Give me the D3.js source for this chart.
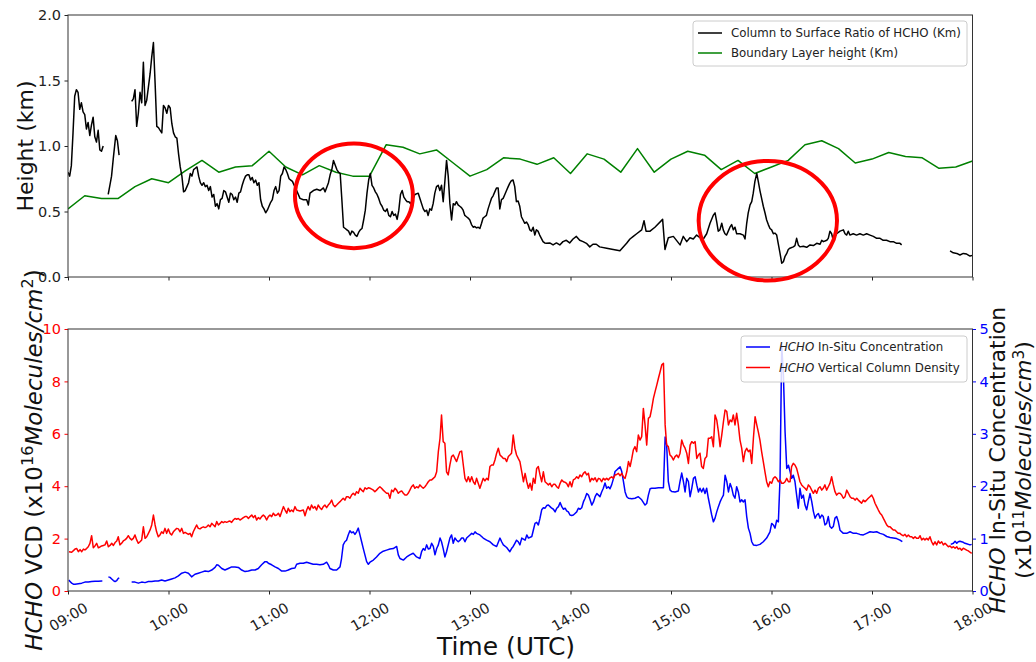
<!DOCTYPE html>
<html>
<head>
<meta charset="utf-8">
<style>
  body { margin: 0; background: #fff; }
  svg { font-family: 'DejaVu Sans', sans-serif; }
</style>
</head>
<body>
<script src="https://cdn.jsdelivr.net/npm/d3@7"></script>
<script>
// all times are minutes after 09:00 UTC, null = no data

// column to surface ratio of HCHO (km)
const ratioMin = [
  0,1,2,3,4,5,6,7,8,9,
  10,11,12,13,14,15,16,17,18,19,
  20,21,22.5,24,25,26,27,28,28.5,29.5,
  30.5,34,38,39,40,41,42,43,44,45,
  46,47,48,49,50,51,52,53,54,55,
  56,57,58,59,60,61,62,63,64,65,
  66,67,68,69,70,71,72,73,74,75,
  76,77,78,79,80,81,82,83,84,85,
  86,87,88,89,90,91,92,93,94,95,
  96,97,98,99,100,101,102,103,104,105,
  106,107,108,109,110,111,112,113,114,115,
  116,117,118,119,120,121,122,123,124,125,
  126,127,128,129,130,131,132,133,134,135,
  136.5,138.5,140.5,142.5,143.5,144.5,146.5,148.5,150.5,152.5,
  153.5,155.5,156.5,157.5,158.5,159.5,160.5,161.5,162.5,163.5,
  164.5,165.5,166.5,167.5,168.5,169.5,170.5,171.5,172.5,173.5,
  174.5,175.5,176.5,177.5,178.5,179.5,180.5,181.5,182.5,183.5,
  184.5,185.5,186.5,187.5,188.5,189.5,190.5,191.5,192.5,193.5,
  194.5,195.5,196.5,197.5,198.5,199.5,200.5,201.5,202.5,203.5,
  204.5,206.1,207.1,209.1,210.1,212.1,213.1,214.1,215,216,
  217,218,219,220,221,222,223,224,225,226,
  227,228,229,230,231,231.9,232.9,233.9,234.9,235.9,
  236.9,237.9,238.9,239.9,240.9,241.9,242.9,243.9,244.9,245.9,
  246.9,247.8,248.8,249.8,250.8,251.8,252.8,253.8,254.8,255.8,
  256.8,257.8,258.8,259.8,260.8,261.8,262.8,263.7,264.7,265.7,
  266.7,267.7,268.7,269.7,270.7,271.7,272.7,273.7,274.7,275.7,
  276.7,277.7,278.7,279.6,280.6,281.6,282.6,283.6,284.6,285.6,
  287.6,289.6,291.6,293.6,295.5,297.5,299.5,301.5,303.5,305.5,
  307.5,309.5,311.5,313.4,315.4,317.4,321.6,325.5,329.5,333.5,
  335.5,337.5,339.5,342.5,343.9,345.1,347.5,350.4,355,356.4,
  358.4,361.4,365.4,367.3,369.4,371.3,373.3,375.3,377.3,379.3,
  381.3,383.3,385.2,386.3,387.3,388.2,389.2,390.3,391.2,392.2,
  393.2,394.2,395.2,396.2,397.2,398.2,399.2,401.2,403.2,404.2,
  405.2,406.1,407.2,408.2,409.1,410.1,411.2,412.1,413.1,414.1,
  415.1,416.1,417.1,418.1,419.1,420.1,421.1,422.1,423.1,424,
  425.1,426.1,427.1,428,429.1,430,431,433,434,435,
  436,437,439,441,443,445,447,449,450,451,
  453,453.9,454.9,455.9,456.9,457.9,458.9,460.9,462.9,463.9,
  464.9,465.8,466.8,468.8,470.8,472.8,474.8,476.8,478.8,480.8,
  482.8,484.8,486.7,488.7,490.7,492.7,494.7,496.7,497.7,512,
  526.6,528.5,530.6,532.5,534.5,536.5,538.5,540
];
const ratioKm = [
  0.80,0.77,0.85,1.10,1.38,1.43,1.41,1.28,1.33,1.26,
  1.24,1.13,1.18,1.08,1.16,1.22,1.07,1.03,1.12,0.97,
  0.96,1.00,null,0.63,0.70,0.77,0.90,1.02,1.08,1.04,
  0.93,null,1.34,1.36,1.43,1.15,1.25,1.41,1.33,1.64,
  1.31,1.35,1.45,1.55,1.68,1.79,1.48,1.15,1.14,1.12,
  1.10,1.31,1.29,1.25,1.31,1.29,1.17,1.10,1.07,1.06,
  0.94,0.84,0.77,0.65,0.66,0.69,0.72,0.79,0.77,0.82,
  0.83,0.84,0.77,0.72,0.70,0.72,0.69,0.70,0.66,0.69,
  0.61,0.63,0.54,0.56,0.52,0.59,0.60,0.66,0.65,0.61,
  0.57,0.64,0.63,0.59,0.61,0.57,0.64,0.65,0.70,0.74,
  0.77,0.78,0.78,0.74,0.76,0.72,0.74,0.70,0.72,0.59,
  0.54,0.52,0.49,0.51,0.54,0.57,0.59,0.66,0.69,0.64,
  0.66,0.77,0.79,0.84,0.82,0.79,0.75,0.74,0.73,0.70,
  0.66,0.60,0.59,0.59,0.55,0.64,0.66,0.67,0.66,0.68,
  0.65,0.72,0.78,0.82,0.89,0.855,0.82,0.80,0.79,0.59,
  0.38,0.37,0.36,0.35,0.32,0.35,0.34,0.32,0.31,0.34,
  0.36,0.37,0.435,0.51,0.64,0.74,0.79,0.70,0.68,0.65,
  0.63,0.60,0.56,0.54,0.51,0.50,0.52,0.47,0.46,0.50,
  0.47,0.48,0.44,0.51,0.63,0.66,0.61,0.59,0.575,0.575,
  0.56,0.60,0.63,0.64,0.60,0.52,0.50,0.51,0.47,0.52,
  0.51,0.56,0.64,0.69,0.70,0.66,0.70,0.575,0.73,0.89,
  0.77,0.56,0.435,0.56,0.55,0.575,0.55,0.54,0.53,0.51,
  0.47,0.46,0.45,0.435,0.40,0.38,0.385,0.375,0.38,0.37,
  0.41,0.45,0.46,0.47,0.52,0.56,0.60,0.62,0.65,0.68,
  0.68,0.52,0.59,0.60,0.63,0.66,0.69,0.715,0.735,0.74,
  0.69,0.575,0.58,0.54,0.46,0.435,0.41,0.42,0.40,0.36,
  0.35,0.38,0.32,0.36,0.35,0.32,0.295,0.27,0.26,0.257,
  0.26,0.245,0.26,0.245,0.27,0.28,0.26,0.29,0.31,0.28,
  0.27,0.257,0.23,0.25,0.25,0.23,0.22,0.21,0.20,0.257,
  0.29,0.31,0.33,0.36,0.43,0.35,0.35,0.38,0.44,0.21,
  0.30,0.31,0.245,0.31,0.27,0.30,0.29,0.32,0.30,0.29,
  0.33,0.41,0.47,0.49,0.42,0.35,0.36,0.41,0.36,0.33,
  0.32,0.35,0.38,0.40,0.36,0.38,0.33,0.33,0.32,0.29,
  0.41,0.49,0.55,0.575,0.64,0.73,0.79,0.73,0.66,0.60,
  0.54,0.49,0.435,0.40,0.37,0.36,0.33,0.335,0.32,0.257,
  0.18,0.105,0.117,0.155,0.18,0.21,0.22,0.23,0.24,0.295,
  0.245,0.23,0.235,0.227,0.245,0.24,0.257,0.25,0.28,0.27,
  0.28,0.295,0.35,0.33,0.28,0.31,0.33,0.35,0.36,0.33,
  0.32,0.35,0.32,0.33,0.32,0.33,0.32,0.33,0.32,0.31,
  0.295,0.295,0.28,0.28,0.27,0.27,0.257,0.257,0.245,null,
  0.20,0.185,0.18,0.168,0.18,0.175,0.16,0.165
];

// boundary layer height (km), one value every 10 minutes from 09:00 to 18:00
const blhKm = [
  0.52,0.62,0.60,0.60,0.69,0.75,0.72,0.81,0.89,0.80,
  0.84,0.85,0.96,0.84,0.78,0.85,0.80,0.77,0.77,1.01,
  0.99,0.94,0.97,0.87,0.77,0.82,0.91,0.90,0.86,0.91,
  0.79,0.94,0.90,0.80,0.98,0.80,0.90,0.96,0.93,0.82,
  0.89,0.79,0.84,0.89,1.01,1.04,0.98,0.87,0.90,0.95,
  0.92,0.91,0.83,0.84,0.885
];
const blhStep = 10;

// HCHO vertical column density (x1e16 molecules/cm2)
const vcdMin = [
  0.6,2.2,4.2,5.2,6.2,7.2,8.2,9.2,10.1,11.1,
  12.1,13.1,14.1,15.1,16.1,17.1,18.1,19.1,20.1,21.1,
  22.1,23.1,24.1,25.1,26.1,27.1,28.1,29.1,30,31,
  32,33,34,35,36,37,38,39,40,41,
  42,43,44,45,46,47,48,49,50,51,
  52,52.9,53.9,54.9,55.9,56.9,57.9,58.9,59.9,60.9,
  61.9,62.9,63.9,64.9,65.9,66.9,67.9,68.9,69.9,70.9,
  71.9,72.9,73.8,74.8,75.8,76.8,77.8,78.8,79.8,80.8,
  81.8,82.8,83.8,84.8,85.8,86.8,87.8,88.8,89.8,90.8,
  91.8,92.7,93.7,94.7,95.7,96.7,97.7,98.7,99.7,100.7,
  101.7,102.7,103.7,104.7,105.7,106.7,107.7,108.7,109.7,110.7,
  111.7,112.6,113.6,114.6,115.6,116.6,117.6,118.6,119.6,120.6,
  121.6,122.6,123.6,124.6,125.6,126.6,127.6,128.6,129.6,130.6,
  131.5,132.5,133.5,134.5,135.5,136.5,138.5,140.5,141.5,142.5,
  143.4,144.4,145.4,146.4,147.4,148.4,149.4,150.4,151.4,152.4,
  153.4,154.4,155.4,156.4,157.4,158.4,159.4,160.4,161.4,162.4,
  163.3,164.3,165.3,166.3,167.3,168.3,169.3,170.3,171.3,172.3,
  173.3,174.3,175.3,176.3,177.3,178.3,179.3,180.3,181.3,182.3,
  183.2,184.2,185.2,186.2,187.2,188.2,189.2,190.2,191.2,192.2,
  193.2,194.2,195.2,196.2,197.2,198.2,199.2,200.2,201.2,202.2,
  203.1,204.1,205.1,206.1,207.1,208.1,209.1,210.1,211.1,212.1,
  213.1,214.1,215.1,216.1,217.1,218.1,219.1,220.1,221.1,222.1,
  223,224,225,226,227,228,229,230,231,232,
  233,234,235,236,237,238,239,240,241,242,
  243,243.9,244.9,245.9,246.9,247.9,248.9,249.9,250.9,251.9,
  252.9,253.9,254.9,255.9,256.9,257.9,258.9,259.9,260.9,261.9,
  262.9,263.8,264.8,265.8,266.8,267.8,268.8,269.8,270.9,271.9,
  272.9,273.9,274.9,275.9,276.9,277.8,278.8,279.8,280.8,281.8,
  282.8,283.8,284.8,285.8,286.8,287.8,288.8,289.8,290.8,291.8,
  292.8,293.8,294.8,295.8,296.8,297.7,298.7,299.7,300.7,301.7,
  302.7,303.7,304.7,305.7,306.7,307.7,308.7,309.7,310.7,311.7,
  312.7,313.7,314.7,315.7,316.7,317.6,318.6,319.6,320.6,321.6,
  322.6,323.6,324.6,325.6,326.6,327.6,328.6,329.6,330.6,331.6,
  332.6,333.6,334.6,335.6,336.6,337.5,338.5,339.5,340.5,341.5,
  342.5,343.5,344.5,345.5,346.5,347.5,348.5,349.5,350.5,351.5,
  352.5,353.5,354.5,355.5,356.5,357.4,358.4,359.4,360.4,361.4,
  362.4,363.4,364.4,365.4,366.4,367.4,368.4,369.4,370.4,371.4,
  372.4,373.4,374.4,375.4,376.4,377.3,378.3,379.3,380.3,381.3,
  382.3,383.3,384.3,385.3,386.3,387.3,388.3,389.3,390.3,391.3,
  392.3,393.3,394.3,395.3,396.3,397.2,398.2,399.2,400.2,401.2,
  402.2,403.2,404.2,405.2,406.2,407.2,408.2,409.2,410.2,411.2,
  412.1,413.1,414.1,415.1,416.1,417.1,418.1,419.1,420.1,421.1,
  422.1,423.1,424.1,425.1,426.1,427.1,428.1,429.1,430.1,431.1,
  432,433,434,435,436,437,438,439,440,441,
  442,443,444,445,446,447,448,449,450,450.9,
  451.9,452.9,453.9,454.9,455.9,456.9,457.9,458.9,459.9,460.9,
  461.9,462.9,463.9,464.9,465.9,466.9,467.9,468.9,469.9,470.9,
  471.8,472.8,473.8,474.8,475.8,476.8,477.8,478.8,479.8,480.8,
  481.8,482.8,483.8,484.8,485.8,486.8,487.8,488.8,489.8,490.8,
  491.7,492.7,493.7,494.7,495.7,496.7,497.7,498.7,499.7,500.7,
  501.7,502.7,503.7,504.7,505.7,506.7,507.7,508.7,509.7,510.7,
  511.6,512.6,513.6,514.6,515.6,516.6,517.6,518.6,519.6,520.6,
  521.6,522.6,523.6,524.6,525.6,526.6,527.6,528.6,529.6,530.6,
  531.5,532.5,533.5,534.5,535.5,536.5,537.5,538.5,539.5
];
const vcdVal = [
  1.50,1.48,1.60,1.62,1.50,1.58,1.50,1.60,1.57,1.62,
  1.69,1.82,2.11,1.65,1.72,1.82,1.65,1.68,1.72,1.74,
  1.76,1.91,1.69,1.74,1.82,1.74,1.85,1.91,2.07,1.76,
  1.82,1.91,1.95,2.01,2.11,2.01,1.95,2.01,2.14,1.95,
  1.82,1.88,1.95,2.45,2.01,2.07,2.20,2.33,2.52,2.90,
  2.52,2.26,2.07,2.14,2.26,2.20,2.39,2.20,2.37,2.20,
  2.14,2.26,2.33,2.39,2.37,2.26,2.39,2.20,2.24,2.20,
  2.16,2.20,2.07,2.26,2.39,2.52,2.39,2.37,2.42,2.45,
  2.42,2.45,2.52,2.45,2.58,2.52,2.45,2.65,2.52,2.58,
  2.65,2.61,2.65,2.62,2.65,2.67,2.62,2.71,2.77,2.74,
  2.77,2.71,2.75,2.80,2.84,2.84,2.77,2.84,2.90,2.80,
  2.88,2.71,2.80,2.75,2.84,2.90,2.84,2.71,2.84,2.90,
  2.84,2.97,2.88,2.90,2.97,2.84,3.03,3.22,3.09,2.97,
  3.16,3.03,3.09,3.03,3.22,3.09,3.05,3.09,2.87,3.09,
  3.22,3.09,3.28,3.16,3.22,3.09,3.28,3.18,3.11,3.22,
  3.28,3.18,3.28,3.35,3.47,3.28,3.22,3.28,3.35,3.41,
  3.47,3.54,3.47,3.60,3.60,3.54,3.66,3.73,3.66,3.79,
  3.73,3.92,3.85,3.79,3.94,3.89,3.94,3.92,3.89,3.85,
  3.79,3.85,3.92,3.98,3.92,3.85,3.79,3.73,3.73,3.54,
  3.85,3.79,3.92,3.85,3.73,3.79,3.82,3.73,3.66,3.66,
  3.73,3.85,3.98,4.05,3.92,3.98,3.94,4.05,3.98,3.92,
  3.98,4.07,4.17,4.24,4.24,4.30,4.36,4.55,5.32,5.83,
  6.72,5.70,5.64,4.55,4.43,4.81,5.13,5.19,5.06,4.94,
  5.13,5.32,5.34,4.81,4.30,4.17,4.36,4.17,4.36,4.17,
  4.07,4.30,4.11,3.92,4.11,4.30,4.20,4.30,4.24,4.75,
  4.81,4.81,5.00,5.26,5.45,5.19,5.13,5.06,5.06,4.94,
  5.13,5.19,5.26,5.95,5.45,5.19,5.06,4.94,4.55,4.17,
  4.49,4.17,3.92,4.11,3.85,4.30,4.11,4.68,4.75,4.43,
  4.17,4.55,4.17,4.11,4.05,4.11,3.98,4.07,4.07,3.98,
  3.92,4.11,4.24,4.17,4.15,4.11,3.98,4.17,3.98,4.24,
  4.28,4.36,4.30,4.43,4.36,4.49,4.55,4.43,4.49,4.17,
  4.30,4.24,4.32,4.17,4.30,4.28,4.17,4.30,4.24,4.30,
  4.24,4.32,4.36,4.30,4.43,4.45,4.49,4.40,4.49,4.36,
  4.30,4.55,4.94,4.75,5.06,5.38,5.51,5.32,5.95,5.76,
  5.89,6.97,6.34,5.57,6.59,6.65,6.97,7.35,7.61,7.86,
  8.12,8.37,8.63,8.69,6.34,5.57,5.51,5.19,5.13,5.00,
  5.13,5.19,5.09,5.26,5.76,5.57,5.45,5.26,4.87,5.57,
  5.70,5.64,5.70,5.06,5.19,5.26,4.75,4.68,5.06,5.13,
  5.83,5.83,5.89,5.51,6.72,6.53,6.08,5.51,5.95,6.46,
  6.91,6.85,6.34,6.53,6.46,6.72,6.34,6.78,6.34,5.76,
  5.45,4.94,5.32,5.45,5.32,5.38,4.87,5.83,6.65,6.34,
  6.08,5.76,5.32,4.94,4.55,4.17,3.98,4.17,4.11,4.30,
  4.36,4.30,4.17,4.24,4.11,4.11,4.17,4.30,4.17,4.17,
  4.75,4.87,4.81,4.68,4.43,4.17,4.05,3.98,3.92,3.85,
  4.05,3.98,3.85,3.73,3.85,3.73,3.92,3.98,3.85,3.92,
  4.05,3.85,3.98,4.11,4.36,4.05,3.79,3.66,3.73,3.73,
  3.66,3.54,3.60,3.85,3.73,3.60,3.54,3.54,3.47,3.54,
  3.47,3.41,3.35,3.47,3.41,3.47,3.54,3.60,3.66,3.54,
  3.35,3.22,3.09,2.97,2.90,2.77,2.65,2.52,2.45,2.45,
  2.39,2.33,2.33,2.26,2.20,2.20,2.14,2.11,2.16,2.07,
  2.14,2.07,2.07,2.01,2.07,2.01,2.01,2.11,1.95,2.01,
  1.95,2.01,1.95,2.07,1.88,1.76,1.88,1.76,1.91,1.82,
  1.88,1.76,1.82,1.76,1.69,1.72,1.65,1.69,1.63,1.69,
  1.60,1.63,1.56,1.63,1.60,1.56,1.53,1.48,1.44
];

// HCHO in-situ concentration (x1e11 molecules/cm3)
const insituMin = [
  0.6,1.2,2.2,3.2,4.2,6.2,8.2,10.1,12.1,14.1,
  16.1,18.1,20.1,20.5,22,24.1,25.1,26.1,27.1,28.1,
  29.1,30,30.6,34,38,40,42,44,46,48,
  50,52,53.9,55.9,57.9,59.9,61.9,63.9,65.9,67.9,
  69.9,71.9,73.8,75.8,77.8,79.8,81.8,83.8,85.8,87.8,
  88.8,89.8,91.8,93.7,95.7,97.7,99.7,101.7,103.7,105.7,
  107.7,109.7,111.7,113.6,115.6,117.6,118.6,119.6,121.6,123.6,
  125.6,127.6,129.6,131.5,133.5,135.5,136.5,138.5,140.5,142.5,
  144.4,146.4,148.4,150.4,152.4,154.4,155.4,156.4,158.4,160.4,
  162.4,163.3,164.3,165.3,166.3,167.3,168.3,169.3,170.3,171.3,
  172.3,173.3,174.3,175.3,176.3,178.3,179.3,180.3,182.3,184.2,
  186.2,188.2,190.2,192.2,194.2,196.2,197.2,198.2,200.2,202.2,
  204.1,206.1,208.1,210.1,211.1,212.1,213.1,214.1,215.1,216.1,
  217.1,218.1,219.1,220.1,221.1,222.1,223,224,225,226,
  227,228,229,230,231,232,233,234,235,236,
  237,238,240,241,242,243,243.9,245.9,247.9,249.9,
  251.9,253.9,255.9,257.9,258.9,259.9,261.9,263.8,264.8,265.8,
  266.8,267.8,268.8,269.8,270.9,272.9,273.9,274.9,276.9,277.8,
  278.8,279.8,280.8,281.8,282.8,283.8,284.8,285.8,286.8,287.8,
  288.8,289.8,290.8,291.8,292.8,293.8,294.8,295.8,296.8,297.7,
  298.7,299.7,300.7,301.7,302.7,303.7,304.7,305.7,306.7,307.7,
  308.7,309.7,310.7,311.7,312.7,313.7,314.7,315.7,316.7,317.6,
  318.6,319.6,320.6,321.6,322.6,323.6,324.6,325.6,326.6,327.6,
  328.6,329.6,330.6,331.6,332.6,333.6,334.6,336.6,338.5,340.5,
  342.5,344.5,345.5,346.5,347.5,348.5,350.5,352.5,354.5,355.5,
  356.5,357.4,358.4,359.4,360.4,362.4,364.4,365.4,366.4,367.4,
  368.4,369.4,370.4,371.4,372.4,373.4,374.4,375.4,376.4,377.3,
  378.3,379.3,380.3,381.3,382.3,383.3,384.3,385.3,386.3,387.3,
  388.3,389.3,390.3,391.3,392.3,393.3,394.3,395.3,396.3,397.2,
  398.2,399.2,400.2,401.2,402.2,403.2,404.2,405.2,406.2,407.2,
  408.2,409.2,411.2,413.1,415.1,417.1,419.1,420.1,421.1,422.1,
  423.1,424.1,425.1,426.1,427.1,428.1,429.1,430.1,431.1,432,
  433,434,435,436,437,438,439,440,441,442,
  443,444,445,446,447,448,449,450,450.9,451.9,
  452.9,453.9,454.9,455.9,456.9,457.9,458.9,459.9,460.9,462.9,
  464.9,466.9,468.9,470.9,472.8,474.8,476.8,478.8,480.8,482.8,
  484.8,486.8,488.8,490.8,492.7,494.7,496.7,498.1,512,527,
  528.6,529.6,530.6,531.5,532.5,533.5,534.5,535.5,536.5,538.5,
  539.5
];
const insituVal = [
  0.21,0.18,0.15,0.13,0.13,0.14,0.15,0.17,0.17,0.18,
  0.185,0.185,0.19,0.19,null,0.27,0.26,0.23,0.20,0.18,
  0.20,0.24,0.25,null,0.17,0.17,0.15,0.17,0.16,0.18,
  0.18,0.19,0.19,0.21,0.19,0.21,0.23,0.25,0.29,0.34,
  0.36,0.34,0.27,0.32,0.34,0.36,0.38,0.37,0.40,0.45,
  0.50,0.49,0.43,0.40,0.43,0.46,0.46,0.45,0.40,0.37,
  0.38,0.40,0.40,0.43,0.50,0.56,0.56,0.53,0.50,0.46,
  0.43,0.38,0.38,0.40,0.43,0.44,0.51,0.53,0.53,0.55,
  0.53,0.51,0.51,0.50,0.51,0.55,0.50,0.43,0.40,0.40,
  0.46,0.62,0.88,0.94,0.97,1.07,1.15,1.11,1.13,1.08,
  1.13,1.20,1.07,0.94,0.81,0.56,0.51,0.55,0.59,0.65,
  0.72,0.76,0.78,0.80,0.81,0.85,0.69,0.62,0.59,0.65,
  0.69,0.72,0.65,0.62,0.75,0.81,0.78,0.88,0.80,0.81,
  0.91,0.85,0.69,0.81,0.88,1.01,0.94,0.81,0.65,0.75,
  0.88,1.01,1.07,0.91,1.01,0.97,0.94,0.97,1.01,1.01,
  0.94,1.01,1.07,1.10,1.08,1.13,1.10,1.07,1.01,0.97,
  0.94,0.88,0.85,1.01,0.94,0.88,0.83,0.75,0.81,0.85,
  0.91,0.97,0.94,0.88,1.01,0.97,1.07,1.01,1.04,1.16,
  1.29,1.31,1.26,1.39,1.55,1.59,1.58,1.63,1.64,1.61,
  1.58,1.56,1.51,1.58,1.61,1.69,1.61,1.56,1.58,1.53,
  1.51,1.45,1.44,1.45,1.48,1.51,1.58,1.56,1.59,1.70,
  1.77,1.86,1.83,1.74,1.64,1.70,1.80,1.86,1.83,1.80,
  1.89,1.96,2.06,1.96,1.99,1.95,2.03,2.14,2.28,2.31,
  2.34,2.37,2.28,2.09,1.89,1.80,1.77,1.76,1.77,1.80,
  1.74,1.64,1.67,1.83,1.95,1.96,1.96,1.97,1.97,1.97,
  2.94,2.79,2.09,1.93,1.90,1.89,1.91,2.09,2.25,2.09,
  1.89,2.15,2.09,1.80,1.96,2.15,2.18,2.02,1.89,1.96,
  1.89,1.96,1.86,1.96,1.77,1.61,1.45,1.32,1.39,1.51,
  1.61,1.70,1.77,1.83,2.21,2.09,1.89,2.05,1.96,1.83,
  1.77,1.99,1.89,1.70,1.74,1.70,1.74,1.42,1.20,1.10,
  0.94,0.88,0.87,0.89,0.94,1.01,1.13,1.29,1.26,1.20,
  1.35,1.32,2.15,4.69,4.12,3.04,2.34,2.40,2.28,2.15,
  2.21,2.09,1.83,1.58,1.96,1.77,1.83,1.64,1.55,1.71,
  1.86,1.71,1.52,1.39,1.45,1.48,1.39,1.45,1.42,1.26,
  1.29,1.42,1.23,1.20,1.23,1.39,1.42,1.32,1.16,1.10,
  1.10,1.13,1.10,1.10,1.08,1.07,1.10,1.13,1.12,1.13,
  1.10,1.08,1.04,1.02,1.01,1.00,0.97,0.94,null,0.89,
  0.91,0.95,0.91,0.94,0.95,0.94,0.93,0.91,0.90,0.88,
  0.89
];

const hourTicks = [0, 60, 120, 180, 240, 300, 360, 420, 480, 540];
const hourLabels = ['09:00','10:00','11:00','12:00','13:00','14:00','15:00','16:00','17:00','18:00'];
const heightTicks = [0, 0.5, 1.0, 1.5, 2.0];
const vcdTicks = [0, 2, 4, 6, 8, 10];
const insituTicks = [0, 1, 2, 3, 4, 5];

// red ellipses drawn on the top panel: centre (min, km) and half sizes (min, km)
const marks = [
  { t: 170.7, v: 0.62, dt: 35.2, dv: 0.40 },
  { t: 417.8, v: 0.43, dt: 41.3, dv: 0.456 }
];

if (ratioMin.length !== ratioKm.length || vcdMin.length !== vcdVal.length || insituMin.length !== insituVal.length)
  console.error('length mismatch', ratioMin.length, ratioKm.length, vcdMin.length, vcdVal.length, insituMin.length, insituVal.length);

const width = 1036, height = 662;
const x0 = 68, x1 = 972.5;
const topA = 15, botA = 277, topB = 329, botB = 591;
const tickFont = 14.5, labelFont = 22, mathFont = 23, legendFont = 11.8;
const spineColor = '#333';

const svg = d3.select('body').append('svg')
  .attr('width', width)
  .attr('height', height);

const x = d3.scaleLinear().domain([0, 540]).range([x0, x1]);
const yH = d3.scaleLinear().domain([0, 2]).range([botA, topA]);
const yV = d3.scaleLinear().domain([0, 10]).range([botB, topB]);
const yC = d3.scaleLinear().domain([0, 5]).range([botB, topB]);

const zip = (ts, vs) => ts.map((t, i) => ({ t, v: vs[i] }));

const defs = svg.append('defs');
[['clipA', topA, botA], ['clipB', topB, botB]].forEach(([id, a, b]) => {
  defs.append('clipPath').attr('id', id)
    .append('rect').attr('x', x0).attr('y', a).attr('width', x1 - x0).attr('height', b - a);
});

function styleAxis(g, color) {
  g.attr('font-family', null).attr('font-size', null);
  g.select('.domain').remove();
  g.selectAll('.tick line').attr('stroke', color);
  g.selectAll('.tick text').attr('fill', color).style('font-size', tickFont + 'px');
}

function drawLine(clip, data, yScale, color) {
  const line = d3.line()
    .defined(d => d.v != null)
    .x(d => x(d.t))
    .y(d => yScale(d.v));
  svg.append('path')
    .datum(data)
    .attr('clip-path', `url(#${clip})`)
    .attr('fill', 'none')
    .attr('stroke', color)
    .attr('stroke-width', 1.5)
    .attr('stroke-linejoin', 'round')
    .attr('d', line);
}

// write text made of plain / italic / superscript pieces
function richText(sel, parts, lift = 9) {
  let raised = false;
  parts.forEach(p => {
    const ts = sel.append('tspan').text(p.t);
    if (p.it) ts.style('font-style', 'italic');
    if (p.sup) {
      ts.attr('dy', -lift).style('font-size', '70%');
      raised = true;
    } else if (raised) {
      ts.attr('dy', lift);
      raised = false;
    }
  });
  return sel;
}

// ---------- top panel ----------
svg.append('g')
  .attr('transform', `translate(${x0},0)`)
  .call(d3.axisLeft(yH).tickValues(heightTicks).tickFormat(d3.format('.1f')).tickSize(3.5).tickPadding(3.5))
  .call(g => styleAxis(g, '#222'));

svg.append('g')
  .attr('transform', `translate(0,${botA})`)
  .call(d3.axisBottom(x).tickValues(hourTicks).tickFormat('').tickSize(3.5))
  .call(g => styleAxis(g, '#222'));

drawLine('clipA', blhKm.map((v, i) => ({ t: i * blhStep, v })), yH, '#008000');
drawLine('clipA', zip(ratioMin, ratioKm), yH, '#000');

svg.append('rect')
  .attr('x', x0).attr('y', topA).attr('width', x1 - x0).attr('height', botA - topA)
  .attr('fill', 'none').attr('stroke', spineColor).attr('stroke-width', 1);

svg.append('text')
  .attr('transform', `translate(33,${(topA + botA) / 2}) rotate(-90)`)
  .attr('text-anchor', 'middle')
  .style('font-size', labelFont + 'px')
  .attr('fill', '#111')
  .text('Height (km)');

// legend top
const legA = svg.append('g');
legA.append('rect')
  .attr('x', 693).attr('y', 21).attr('width', 274).attr('height', 45).attr('rx', 3)
  .attr('fill', '#fff').attr('fill-opacity', 0.85).attr('stroke', '#ccc');
[['Column to Surface Ratio of HCHO (Km)', '#000'], ['Boundary Layer height (Km)', '#008000']].forEach(([label, color], i) => {
  const yy = 33 + i * 20;
  legA.append('line').attr('x1', 698).attr('x2', 722).attr('y1', yy).attr('y2', yy)
    .attr('stroke', color).attr('stroke-width', 1.5);
  legA.append('text').attr('x', 731).attr('y', yy).attr('dy', '0.35em')
    .style('font-size', legendFont + 'px').attr('fill', '#222').text(label);
});

// ---------- bottom panel ----------
svg.append('g')
  .attr('transform', `translate(${x0},0)`)
  .call(d3.axisLeft(yV).tickValues(vcdTicks).tickFormat(d3.format('d')).tickSize(3.5).tickPadding(3.5))
  .call(g => styleAxis(g, '#ff0000'));

svg.append('g')
  .attr('transform', `translate(${x1},0)`)
  .call(d3.axisRight(yC).tickValues(insituTicks).tickFormat(d3.format('d')).tickSize(3.5).tickPadding(3.5))
  .call(g => styleAxis(g, '#0000ff'));

svg.append('g')
  .attr('transform', `translate(0,${botB})`)
  .call(d3.axisBottom(x).tickValues(hourTicks).tickFormat((d, i) => hourLabels[i]).tickSize(3.5))
  .call(g => styleAxis(g, '#222'))
  .call(g => g.selectAll('.tick text')
    .attr('y', 0).attr('dy', null)
    .attr('text-anchor', 'middle')
    .attr('dominant-baseline', 'central')
    .attr('transform', 'translate(0,26) rotate(-30)'));

drawLine('clipB', zip(insituMin, insituVal), yC, '#0000ff');
drawLine('clipB', zip(vcdMin, vcdVal), yV, '#ff0000');

svg.append('rect')
  .attr('x', x0).attr('y', topB).attr('width', x1 - x0).attr('height', botB - topB)
  .attr('fill', 'none').attr('stroke', spineColor).attr('stroke-width', 1);

richText(svg.append('text')
  .attr('transform', `translate(42,${(topB + botB) / 2}) rotate(-90)`)
  .attr('text-anchor', 'middle')
  .style('font-size', mathFont + 'px')
  .attr('fill', '#111'),
  [{ t: 'HCHO', it: true }, { t: ' VCD (x10' }, { t: '16', sup: true }, { t: 'Molecules/cm', it: true }, { t: '2', sup: true }, { t: ')' }]);

richText(svg.append('text')
  .attr('transform', `translate(1005,${(topB + botB) / 2}) rotate(-90)`)
  .attr('text-anchor', 'middle')
  .style('font-size', '22px')
  .attr('fill', '#111'),
  [{ t: 'HCHO', it: true }, { t: ' In-Situ Concentration' }]);

richText(svg.append('text')
  .attr('transform', `translate(1031,${(topB + botB) / 2}) rotate(-90)`)
  .attr('text-anchor', 'middle')
  .style('font-size', '22px')
  .attr('fill', '#111'),
  [{ t: '(x10' }, { t: '11', sup: true }, { t: 'Molecules/cm', it: true }, { t: '3', sup: true }, { t: ')' }], 7.5);

svg.append('text')
  .attr('x', 506).attr('y', 655)
  .attr('text-anchor', 'middle')
  .style('font-size', '25px')
  .attr('fill', '#111')
  .text('Time (UTC)');

// legend bottom
const legB = svg.append('g');
legB.append('rect')
  .attr('x', 741).attr('y', 336).attr('width', 226).attr('height', 46).attr('rx', 3)
  .attr('fill', '#fff').attr('fill-opacity', 0.85).attr('stroke', '#ccc');
[[' In-Situ Concentration', '#0000ff'], [' Vertical Column Density', '#ff0000']].forEach(([label, color], i) => {
  const yy = 347 + i * 20.5;
  legB.append('line').attr('x1', 746).attr('x2', 770).attr('y1', yy).attr('y2', yy)
    .attr('stroke', color).attr('stroke-width', 1.5);
  richText(legB.append('text').attr('x', 779).attr('y', yy).attr('dy', '0.35em')
    .style('font-size', legendFont + 'px').attr('fill', '#222'),
    [{ t: 'HCHO', it: true }, { t: label }]);
});

// ---------- red ellipses ----------
svg.selectAll('ellipse.mark')
  .data(marks)
  .enter().append('ellipse')
  .attr('class', 'mark')
  .attr('cx', d => x(d.t))
  .attr('cy', d => yH(d.v))
  .attr('rx', d => x(d.t + d.dt) - x(d.t))
  .attr('ry', d => yH(d.v) - yH(d.v + d.dv))
  .attr('fill', 'none')
  .attr('stroke', '#ff0000')
  .attr('stroke-width', 4);
</script>
</body>
</html>
